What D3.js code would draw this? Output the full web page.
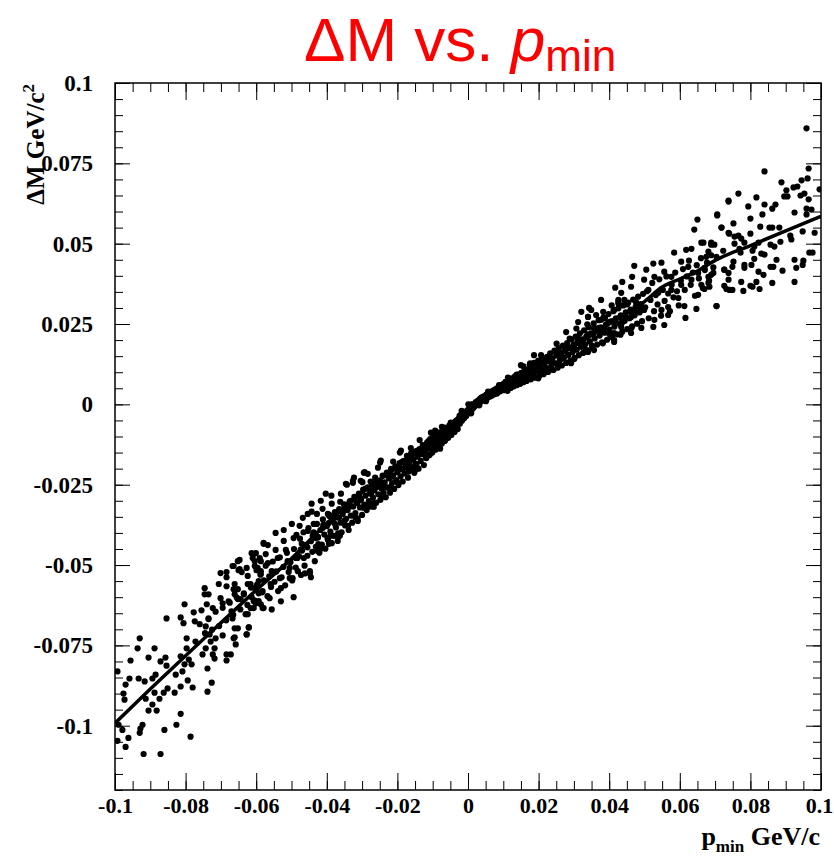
<!DOCTYPE html>
<html>
<head>
<meta charset="utf-8">
<script src="https://cdn.jsdelivr.net/npm/d3@7"></script>
<style>
body { margin: 0; background: #fff; }
</style>
</head>
<body>
<svg id="chart" width="834" height="861"></svg>
<script>
// tick labels
const xMajor = [-0.1, -0.08, -0.06, -0.04, -0.02, 0, 0.02, 0.04, 0.06, 0.08, 0.1];
const yMajor = [-0.1, -0.075, -0.05, -0.025, 0, 0.025, 0.05, 0.075, 0.1];

// fitted curve
const curveP = [-0.1, -0.09, -0.08, -0.07, -0.06, -0.05, -0.04, -0.03, -0.02, -0.01, 0, 0.01, 0.02, 0.03, 0.04, 0.05, 0.055, 0.06, 0.065, 0.07, 0.08, 0.09, 0.1];
const curveM = [-0.0992, -0.0886, -0.0782, -0.068, -0.0578, -0.048, -0.037, -0.0275, -0.0195, -0.011, -0.0015, 0.0055, 0.012, 0.018, 0.025, 0.032, 0.0365, 0.039, 0.0415, 0.0448, 0.0494, 0.054, 0.0585];

// scatter points [pmin, deltaM] : low-momentum tail
const pointsLow = [
  [-0.0993,-0.0831],[-0.0930,-0.0728],[-0.0936,-0.0759],[-0.0956,-0.0797],[-0.0959,-0.0853],[-0.0970,-0.0872],[-0.0976,-0.0900],[-0.0973,-0.0919],[-0.0990,-0.0997],[-0.0979,-0.1013],
  [-0.0993,-0.1047],[-0.0962,-0.1038],[-0.0970,-0.1066],[-0.0928,-0.1009],[-0.0930,-0.1022],[-0.0922,-0.0997],[-0.0919,-0.1088],[-0.0871,-0.1088],[-0.0860,-0.1013],[-0.0826,-0.0997],
  [-0.0814,-0.0963],[-0.0786,-0.1034],[-0.0905,-0.0788],[-0.0888,-0.0759],[-0.0933,-0.0853],[-0.0916,-0.0862],[-0.0894,-0.0853],[-0.0885,-0.0841],[-0.0871,-0.0800],[-0.0857,-0.0788],
  [-0.0854,-0.0813],[-0.0888,-0.0897],[-0.0874,-0.0916],[-0.0905,-0.0953],[-0.0882,-0.0953],[-0.0894,-0.0934],[-0.0913,-0.0916],[-0.0862,-0.0897],[-0.0851,-0.0884],[-0.0831,-0.0897],
  [-0.0814,-0.0878],[-0.0828,-0.0841],[-0.0809,-0.0831],[-0.0803,-0.0809],[-0.0794,-0.0859],[-0.0780,-0.0881],[-0.0814,-0.0784],[-0.0854,-0.0666],[-0.0803,-0.0622],[-0.0814,-0.0663],
  [-0.0806,-0.0681],[-0.0797,-0.0728],[-0.0797,-0.0759],[-0.0791,-0.0794],[-0.0783,-0.0809],[-0.0777,-0.0647],[-0.0774,-0.0675],[-0.0772,-0.0738],[-0.0760,-0.0684],[-0.0755,-0.0641],
  [-0.0746,-0.0572],[-0.0746,-0.0591],[-0.0735,-0.0591],[-0.0740,-0.0622],[-0.0723,-0.0634],[-0.0735,-0.0666],[-0.0743,-0.0691],[-0.0732,-0.0716],[-0.0729,-0.0738],[-0.0743,-0.0759],
  [-0.0752,-0.0778],[-0.0738,-0.0822],[-0.0723,-0.0778],[-0.0718,-0.0791],[-0.0726,-0.0866],[-0.0738,-0.0894],[-0.0718,-0.0759],[-0.0715,-0.0728],[-0.0706,-0.0559],[-0.0701,-0.0525],
  [-0.0701,-0.0603],[-0.0695,-0.0619],[-0.0695,-0.0719],[-0.0684,-0.0522],[-0.0684,-0.0538],[-0.0684,-0.0566],[-0.0678,-0.0613],[-0.0670,-0.0644],[-0.0667,-0.0666],[-0.0661,-0.0697],
  [-0.0661,-0.0725],[-0.0658,-0.0747],[-0.0684,-0.0778],[-0.0672,-0.0778],[-0.0684,-0.0797],[-0.0667,-0.0503],[-0.0652,-0.0488],[-0.0650,-0.0516],[-0.0641,-0.0522],[-0.0661,-0.0559],
  [-0.0652,-0.0575],[-0.0661,-0.0591],[-0.0644,-0.0606],[-0.0635,-0.0591],[-0.0624,-0.0653],[-0.0621,-0.0694],[-0.0627,-0.0716],[-0.0624,-0.0559],[-0.0613,-0.0463],[-0.0610,-0.0478],
  [-0.0601,-0.0463],[-0.0604,-0.0503],[-0.0599,-0.0516],[-0.0601,-0.0619],[-0.0607,-0.0634],[-0.0613,-0.0600],[-0.0587,-0.0488],[-0.0587,-0.0519],[-0.0582,-0.0581],[-0.0582,-0.0634],
  [-0.0579,-0.0434],[-0.0593,-0.0550],[-0.0599,-0.0572],
  [-0.0745,-0.0712],[-0.0735,-0.0668],[-0.0725,-0.0701],[-0.0715,-0.0645],[-0.0705,-0.0690],[-0.0695,-0.0633],[-0.0685,-0.0672],[-0.0675,-0.0617],[-0.0665,-0.0655],[-0.0655,-0.0601],
  [-0.0645,-0.0638],[-0.0635,-0.0588],[-0.0625,-0.0624],[-0.0615,-0.0570],[-0.0605,-0.0610]
];

// negative side of the core band
const pointsMidLow = [
  [-0.0652,-0.0697],[-0.0627,-0.0716],[-0.0621,-0.0694],[-0.0664,-0.0728],[-0.0630,-0.0653],[-0.0652,-0.0606],[-0.0664,-0.0575],[-0.0647,-0.0484],[-0.0664,-0.0503],[-0.0647,-0.0513],
  [-0.0627,-0.0509],[-0.0624,-0.0534],[-0.0616,-0.0559],[-0.0607,-0.0466],[-0.0604,-0.0488],[-0.0590,-0.0478],[-0.0596,-0.0509],[-0.0587,-0.0528],[-0.0604,-0.0572],[-0.0593,-0.0588],
  [-0.0607,-0.0613],[-0.0616,-0.0634],[-0.0587,-0.0622],[-0.0579,-0.0634],[-0.0579,-0.0431],[-0.0567,-0.0438],[-0.0573,-0.0466],[-0.0567,-0.0494],[-0.0556,-0.0519],[-0.0559,-0.0559],
  [-0.0562,-0.0603],[-0.0556,-0.0638],[-0.0545,-0.0400],[-0.0545,-0.0453],[-0.0539,-0.0478],[-0.0533,-0.0541],[-0.0530,-0.0572],[-0.0530,-0.0613],[-0.0522,-0.0391],[-0.0522,-0.0425],
  [-0.0516,-0.0453],[-0.0511,-0.0488],[-0.0505,-0.0509],[-0.0505,-0.0541],[-0.0499,-0.0372],[-0.0494,-0.0416],[-0.0494,-0.0600],[-0.0488,-0.0478],[-0.0482,-0.0519],[-0.0477,-0.0378],
  [-0.0471,-0.0434],[-0.0468,-0.0353],[-0.0465,-0.0478],[-0.0454,-0.0341],[-0.0454,-0.0394],[-0.0445,-0.0538],[-0.0443,-0.0309],[-0.0437,-0.0372],[-0.0431,-0.0416],[-0.0428,-0.0341],
  [-0.0426,-0.0456],[-0.0417,-0.0300],[-0.0411,-0.0384],[-0.0403,-0.0278],[-0.0397,-0.0341],[-0.0394,-0.0434],[-0.0389,-0.0409],[-0.0386,-0.0309],[-0.0377,-0.0372],[-0.0369,-0.0425],
  [-0.0363,-0.0409],[-0.0360,-0.0278],[-0.0352,-0.0331],[-0.0346,-0.0247],[-0.0340,-0.0378],[-0.0332,-0.0300],[-0.0326,-0.0238],[-0.0312,-0.0363],[-0.0309,-0.0278],[-0.0304,-0.0238],
  [-0.0295,-0.0322],[-0.0284,-0.0216],[-0.0275,-0.0278],[-0.0267,-0.0309],[-0.0255,-0.0197],[-0.0252,-0.0238],
  [-0.0598,-0.0561],[-0.0593,-0.0612],[-0.0588,-0.0530],[-0.0583,-0.0585],[-0.0578,-0.0548],[-0.0573,-0.0502],[-0.0568,-0.0597],[-0.0563,-0.0535],[-0.0558,-0.0568],[-0.0553,-0.0489],
  [-0.0548,-0.0552],[-0.0543,-0.0520],[-0.0538,-0.0581],[-0.0533,-0.0476],[-0.0528,-0.0538],[-0.0523,-0.0506],[-0.0518,-0.0563],[-0.0513,-0.0462],[-0.0508,-0.0522],[-0.0503,-0.0491],
  [-0.0498,-0.0548],[-0.0493,-0.0450],[-0.0488,-0.0508],[-0.0483,-0.0478],
  [-0.0479,-0.0472],[-0.0476,-0.0418],[-0.0473,-0.0531],[-0.0470,-0.0455],[-0.0466,-0.0398],[-0.0463,-0.0502],[-0.0459,-0.0437],[-0.0455,-0.0471],[-0.0452,-0.0385],[-0.0448,-0.0519],
  [-0.0445,-0.0426],[-0.0441,-0.0459],[-0.0438,-0.0401],[-0.0434,-0.0488],[-0.0431,-0.0443],
  [-0.0428,-0.0372],[-0.0425,-0.0414],[-0.0421,-0.0462],[-0.0418,-0.0391],[-0.0414,-0.0436],[-0.0411,-0.0358],[-0.0407,-0.0405],[-0.0404,-0.0449],[-0.0400,-0.0379],[-0.0397,-0.0421],
  [-0.0393,-0.0347],[-0.0390,-0.0396],[-0.0386,-0.0432],[-0.0383,-0.0364],[-0.0380,-0.0409],[-0.0377,-0.0335],
  [-0.0374,-0.0383],[-0.0371,-0.0352],[-0.0368,-0.0413],[-0.0365,-0.0326],[-0.0361,-0.0368],[-0.0358,-0.0398],[-0.0355,-0.0341],[-0.0351,-0.0311],[-0.0348,-0.0377],[-0.0345,-0.0356],
  [-0.0341,-0.0329],[-0.0338,-0.0391],[-0.0335,-0.0302],[-0.0332,-0.0346],[-0.0328,-0.0368],[-0.0325,-0.0318],
  [-0.0322,-0.0288],[-0.0319,-0.0338],[-0.0316,-0.0306],[-0.0313,-0.0355],[-0.0309,-0.0279],[-0.0306,-0.0321],[-0.0303,-0.0297],[-0.0300,-0.0344],[-0.0297,-0.0265],[-0.0294,-0.0312],
  [-0.0290,-0.0284],[-0.0287,-0.0329],[-0.0284,-0.0258],[-0.0281,-0.0301],[-0.0278,-0.0276],[-0.0275,-0.0318],
  [-0.0272,-0.0249],[-0.0269,-0.0290],[-0.0266,-0.0268],[-0.0263,-0.0228],[-0.0260,-0.0306],[-0.0257,-0.0256],[-0.0254,-0.0280],[-0.0251,-0.0237],[-0.0248,-0.0297],[-0.0245,-0.0262],
  [-0.0242,-0.0222],[-0.0239,-0.0275],[-0.0236,-0.0243],[-0.0233,-0.0289],[-0.0230,-0.0212],
  [-0.0227,-0.0259],[-0.0224,-0.0230],[-0.0221,-0.0275],[-0.0218,-0.0201],[-0.0215,-0.0245],[-0.0212,-0.0221],[-0.0209,-0.0263],[-0.0206,-0.0193],[-0.0203,-0.0236],[-0.0200,-0.0211],
  [-0.0197,-0.0251],[-0.0194,-0.0183],[-0.0191,-0.0224],[-0.0188,-0.0202],[-0.0185,-0.0240],
  [-0.0182,-0.0176],[-0.0179,-0.0215],[-0.0176,-0.0193],[-0.0173,-0.0160],[-0.0170,-0.0228],[-0.0167,-0.0184],[-0.0164,-0.0205],[-0.0161,-0.0152],[-0.0158,-0.0197],[-0.0155,-0.0171],
  [-0.0152,-0.0213],[-0.0149,-0.0146],[-0.0146,-0.0186],[-0.0143,-0.0163],[-0.0140,-0.0200],
  [-0.0137,-0.0139],[-0.0134,-0.0176],[-0.0131,-0.0155],[-0.0128,-0.0127],[-0.0125,-0.0189],[-0.0122,-0.0146],[-0.0119,-0.0166],[-0.0116,-0.0119],[-0.0113,-0.0138],[-0.0110,-0.0158],
  [-0.0107,-0.0108],[-0.0104,-0.0131],[-0.0101,-0.0150],[-0.0098,-0.0100],[-0.0095,-0.0123],[-0.0092,-0.0141],[-0.0089,-0.0094],[-0.0086,-0.0115],[-0.0083,-0.0133],
  [-0.0080,-0.0087],[-0.0077,-0.0106],[-0.0074,-0.0122],[-0.0071,-0.0080],[-0.0068,-0.0098],[-0.0065,-0.0113],[-0.0062,-0.0073],[-0.0059,-0.0090],[-0.0056,-0.0104],[-0.0053,-0.0066],
  [-0.0050,-0.0082],[-0.0047,-0.0095],[-0.0044,-0.0060],[-0.0041,-0.0074],[-0.0038,-0.0086],[-0.0035,-0.0053],[-0.0032,-0.0067],[-0.0029,-0.0077],
  [-0.0267,-0.0319],[-0.0227,-0.0259],[-0.0148,-0.0203],[-0.0108,-0.0156],[-0.0079,-0.0138],[-0.0323,-0.0228],[-0.0295,-0.0213],[-0.0247,-0.0175],[-0.0190,-0.0144],[-0.0105,-0.0088],
  [-0.0068,-0.0072],
  [-0.0497,-0.0541],[-0.0486,-0.0406],[-0.0474,-0.0452],[-0.0462,-0.0526],
  [-0.0448,-0.0526],[-0.0437,-0.0398],[-0.0424,-0.0435],[-0.0412,-0.0325],[-0.0443,-0.0334],[-0.0418,-0.0450],
  [-0.0398,-0.0416],[-0.0387,-0.0284],[-0.0375,-0.0350],[-0.0362,-0.0303],[-0.0393,-0.0344],[-0.0368,-0.0401],
  [-0.0349,-0.0361],[-0.0337,-0.0309],[-0.0326,-0.0244],[-0.0313,-0.0306],[-0.0343,-0.0250],[-0.0319,-0.0352],
  [-0.0299,-0.0242],[-0.0287,-0.0317],[-0.0276,-0.0240],[-0.0263,-0.0261],[-0.0293,-0.0211],[-0.0269,-0.0309],
  [-0.0249,-0.0181],[-0.0237,-0.0258],[-0.0224,-0.0214],[-0.0212,-0.0178],[-0.0243,-0.0287],[-0.0218,-0.0257],
  [-0.0199,-0.0244],[-0.0187,-0.0179],[-0.0174,-0.0196],[-0.0162,-0.0136],[-0.0193,-0.0150],[-0.0168,-0.0209],
  [-0.0149,-0.0186],[-0.0137,-0.0111],[-0.0124,-0.0142],[-0.0112,-0.0114],[-0.0143,-0.0144],[-0.0118,-0.0167],
  [-0.0099,-0.0140],[-0.0087,-0.0107],[-0.0074,-0.0070],[-0.0062,-0.0090],[-0.0093,-0.0082],[-0.0068,-0.0114],
  [-0.0049,-0.0057],[-0.0037,-0.0073],[-0.0024,-0.0036],[-0.0012,-0.0032],[-0.0043,-0.0072],[-0.0018,-0.0020],
  [-0.0455,-0.0445],[-0.0440,-0.0410],[-0.0425,-0.0412],[-0.0410,-0.0375],[-0.0395,-0.0370],[-0.0380,-0.0348],[-0.0365,-0.0352],[-0.0350,-0.0315],[-0.0335,-0.0318],[-0.0320,-0.0290],
  [-0.0305,-0.0292],[-0.0290,-0.0262],[-0.0275,-0.0268],[-0.0260,-0.0240],[-0.0245,-0.0247],[-0.0230,-0.0220],[-0.0215,-0.0225],[-0.0200,-0.0195],[-0.0185,-0.0200],[-0.0170,-0.0170],
  [-0.0155,-0.0172],[-0.0140,-0.0145],[-0.0125,-0.0148],[-0.0110,-0.0120],[-0.0095,-0.0118],[-0.0080,-0.0090],[-0.0065,-0.0091],[-0.0050,-0.0065],[-0.0035,-0.0060],[-0.0020,-0.0032],
  [-0.0005,-0.0025]
];

// positive side of the core band
const pointsMidHigh = [
  [-0.0026,-0.0047],[-0.0023,-0.0060],[-0.0020,-0.0038],[-0.0017,-0.0051],[-0.0014,-0.0032],[-0.0011,-0.0043],[-0.0008,-0.0025],[-0.0005,-0.0036],[-0.0002,-0.0019],[0.0001,-0.0028],
  [0.0004,-0.0012],[0.0007,-0.0021],[0.0010,-0.0005],[0.0013,-0.0014],[0.0016,0.0001],[0.0019,-0.0007],[0.0022,0.0007],[0.0025,-0.0001],[0.0028,0.0012],[-0.0020,-0.0041],
  [0.0031,0.0004],[0.0034,0.0017],[0.0037,0.0009],[0.0040,0.0022],[0.0043,0.0013],[0.0046,0.0026],[0.0049,0.0017],[0.0052,0.0030],[0.0055,0.0020],[0.0058,0.0034],
  [0.0061,0.0024],[0.0064,0.0038],[0.0067,0.0027],[0.0070,0.0042],[0.0073,0.0031],[0.0076,0.0046],[0.0079,0.0034],[0.0082,0.0050],[0.0085,0.0038],[0.0088,0.0054],
  [0.0091,0.0041],[0.0094,0.0058],[0.0097,0.0046],[0.0100,0.0063],[0.0045,0.0013],[0.0085,0.0044],[0.0009,-0.0028],
  [0.0103,0.0050],[0.0106,0.0070],[0.0109,0.0058],[0.0112,0.0042],[0.0115,0.0076],[0.0118,0.0062],[0.0121,0.0051],[0.0124,0.0081],[0.0127,0.0067],[0.0130,0.0056],
  [0.0133,0.0087],[0.0136,0.0071],[0.0139,0.0060],[0.0142,0.0093],[0.0145,0.0076],[0.0148,0.0064],[0.0151,0.0098],[0.0154,0.0081],[0.0157,0.0069],
  [0.0160,0.0103],[0.0163,0.0086],[0.0166,0.0073],[0.0169,0.0109],[0.0172,0.0092],[0.0175,0.0124],[0.0178,0.0078],[0.0181,0.0114],[0.0184,0.0097],[0.0187,0.0129],
  [0.0190,0.0083],[0.0193,0.0119],[0.0196,0.0102],[0.0199,0.0136],[0.0202,0.0089],[0.0205,0.0124],[0.0208,0.0108],[0.0211,0.0141],[0.0214,0.0094],[0.0217,0.0129],
  [0.0221,0.0114],[0.0224,0.0148],[0.0227,0.0101],[0.0230,0.0134],[0.0233,0.0159],[0.0236,0.0120],[0.0239,0.0143],[0.0242,0.0107],[0.0245,0.0167],[0.0248,0.0128],
  [0.0251,0.0152],[0.0254,0.0114],[0.0257,0.0175],[0.0260,0.0137],[0.0263,0.0160],[0.0266,0.0121],[0.0269,0.0183],[0.0272,0.0145],[0.0275,0.0169],[0.0278,0.0129],
  [0.0281,0.0191],[0.0284,0.0153],[0.0287,0.0176],[0.0290,0.0136],[0.0293,0.0202],[0.0296,0.0162],[0.0299,0.0185],[0.0302,0.0145],[0.0305,0.0211],[0.0308,0.0170],
  [0.0311,0.0194],[0.0314,0.0153],[0.0317,0.0221],[0.0320,0.0179],[0.0323,0.0202],[0.0326,0.0160],[0.0329,0.0230],[0.0332,0.0187],[0.0335,0.0211],[0.0338,0.0168],
  [0.0342,0.0240],[0.0345,0.0196],[0.0349,0.0221],[0.0352,0.0177],[0.0356,0.0252],[0.0359,0.0205],[0.0363,0.0230],[0.0366,0.0186],[0.0370,0.0262],[0.0373,0.0214],
  [0.0377,0.0240],[0.0380,0.0193],[0.0384,0.0271],[0.0387,0.0223],[0.0391,0.0249],[0.0394,0.0201],[0.0398,0.0281],[0.0401,0.0233],[0.0405,0.0258],[0.0408,0.0209],
  [0.0412,0.0290],[0.0415,0.0242],[0.0419,0.0268],
  [0.0423,0.0218],[0.0426,0.0299],[0.0430,0.0251],[0.0433,0.0277],[0.0437,0.0226],[0.0440,0.0308],[0.0444,0.0260],[0.0447,0.0286],[0.0451,0.0234],[0.0454,0.0317],
  [0.0458,0.0268],[0.0461,0.0295],[0.0465,0.0243],[0.0468,0.0326],[0.0472,0.0277],[0.0475,0.0304],[0.0479,0.0251],[0.0482,0.0335],[0.0486,0.0286],[0.0489,0.0312],
  [0.0493,0.0259],[0.0496,0.0344],
  [0.0102,0.0044],[0.0199,0.0081],[0.0292,0.0128],[0.0340,0.0163],[0.0414,0.0194],[0.0150,0.0122],[0.0187,0.0153],[0.0278,0.0225],[0.0312,0.0256],[0.0321,0.0288],
  [0.0340,0.0272],[0.0343,0.0300],[0.0383,0.0288],[0.0426,0.0319],[0.0414,0.0222],[0.0357,0.0169],[0.0335,0.0169],
  [0.0001,0.0000],[0.0013,-0.0013],[0.0026,0.0005],[0.0038,0.0021],[0.0007,-0.0010],[0.0032,-0.0003],
  [0.0051,0.0010],[0.0063,0.0033],[0.0076,0.0034],[0.0088,0.0060],[0.0057,0.0040],[0.0082,0.0034],
  [0.0101,0.0046],[0.0113,0.0083],[0.0126,0.0074],[0.0138,0.0093],[0.0107,0.0066],[0.0132,0.0061],
  [0.0151,0.0079],[0.0163,0.0100],[0.0176,0.0128],[0.0188,0.0102],[0.0157,0.0118],[0.0182,0.0083],
  [0.0201,0.0135],[0.0213,0.0100],[0.0226,0.0147],[0.0238,0.0137],[0.0207,0.0153],[0.0232,0.0108],
  [0.0251,0.0189],[0.0263,0.0141],[0.0276,0.0174],[0.0288,0.0205],[0.0257,0.0122],[0.0282,0.0155],
  [0.0301,0.0141],[0.0313,0.0204],[0.0326,0.0183],[0.0338,0.0249],[0.0307,0.0236],[0.0332,0.0165],
  [0.0351,0.0183],[0.0363,0.0278],[0.0376,0.0231],[0.0388,0.0268],[0.0357,0.0236],[0.0382,0.0190],
  [0.0401,0.0218],[0.0413,0.0260],[0.0426,0.0314],[0.0438,0.0256],[0.0407,0.0308],[0.0432,0.0217],
  [0.0451,0.0311],[0.0463,0.0238],[0.0476,0.0318],[0.0488,0.0292],
  [0.0010,0.0000],[0.0025,0.0002],[0.0040,0.0021],[0.0055,0.0022],[0.0070,0.0040],[0.0085,0.0045],[0.0100,0.0062],[0.0115,0.0065],[0.0130,0.0080],[0.0145,0.0086],
  [0.0160,0.0098],[0.0175,0.0102],[0.0190,0.0115],[0.0205,0.0117],[0.0220,0.0133],[0.0235,0.0140],[0.0250,0.0158],[0.0265,0.0160],[0.0280,0.0177],[0.0295,0.0178],
  [0.0310,0.0195],[0.0325,0.0198],[0.0340,0.0218],[0.0355,0.0218],[0.0370,0.0238],[0.0385,0.0237],[0.0400,0.0256],[0.0415,0.0258],[0.0430,0.0270],[0.0445,0.0276],
  [0.0460,0.0290],[0.0475,0.0288],[0.0490,0.0304]
];

// high-momentum tail
const pointsHigh = [
  [0.0502,0.0302],[0.0507,0.0352],[0.0512,0.0268],[0.0517,0.0325],[0.0522,0.0378],[0.0527,0.0290],[0.0532,0.0340],[0.0537,0.0311],[0.0542,0.0389],[0.0547,0.0276],
  [0.0552,0.0356],[0.0557,0.0322],[0.0562,0.0398],[0.0567,0.0345],[0.0572,0.0290],[0.0577,0.0372],[0.0582,0.0333],[0.0587,0.0410],[0.0592,0.0352],[0.0597,0.0308],
  [0.0603,0.0385],[0.0609,0.0421],[0.0614,0.0356],[0.0620,0.0398],[0.0626,0.0447],[0.0631,0.0372],[0.0637,0.0410],[0.0643,0.0338],[0.0648,0.0433],[0.0654,0.0392],
  [0.0660,0.0455],[0.0665,0.0362],[0.0671,0.0418],[0.0677,0.0441],[0.0683,0.0385],[0.0689,0.0464],[0.0695,0.0426],
  [0.0738,0.0631],[0.0706,0.0591],[0.0650,0.0575],[0.0641,0.0544],[0.0718,0.0550],[0.0738,0.0534],[0.0661,0.0503],[0.0689,0.0497],[0.0633,0.0484],
  [0.0618,0.0481],[0.0584,0.0472],[0.0604,0.0444],[0.0548,0.0441],[0.0525,0.0438],[0.0505,0.0419],[0.0471,0.0431],[0.0465,0.0397],[0.0437,0.0381],[0.0417,0.0363],
  [0.0462,0.0366],[0.0499,0.0388],[0.0528,0.0397],[0.0556,0.0413],[0.0576,0.0397],[0.0624,0.0428],[0.0652,0.0409],[0.0681,0.0397],[0.0695,0.0409],[0.0726,0.0419],
  [0.0738,0.0388],[0.0732,0.0359],[0.0684,0.0366],[0.0652,0.0341],[0.0647,0.0297],[0.0613,0.0306],[0.0616,0.0269],[0.0596,0.0331],[0.0704,0.0306],[0.0567,0.0303],
  [0.0556,0.0247],[0.0567,0.0278],[0.0548,0.0294],[0.0528,0.0263],[0.0525,0.0241],[0.0499,0.0294],[0.0491,0.0238],[0.0462,0.0222],[0.0462,0.0272],[0.0443,0.0325],
  [0.0426,0.0325],[0.0414,0.0294],[0.0434,0.0241],[0.0414,0.0200],[0.0377,0.0325],[0.0349,0.0294],[0.0340,0.0272],[0.0377,0.0263],[0.0434,0.0347],[0.0511,0.0356],
  [0.0539,0.0347],[0.0576,0.0356],[0.0604,0.0372],[0.0633,0.0388],[0.0661,0.0372],
  [0.0959,0.0859],[0.0840,0.0725],[0.0965,0.0734],[0.0888,0.0691],[0.0945,0.0697],[0.0962,0.0703],[0.0996,0.0669],[0.0902,0.0666],[0.0922,0.0675],[0.0933,0.0678],
  [0.0766,0.0656],[0.0738,0.0634],[0.0817,0.0644],[0.0896,0.0647],[0.0905,0.0647],[0.0942,0.0650],[0.0953,0.0656],[0.0965,0.0638],[0.0794,0.0616],[0.0840,0.0622],
  [0.0862,0.0609],[0.0871,0.0622],[0.0959,0.0609],[0.0973,0.0606],[0.0925,0.0597],[0.0706,0.0588],[0.0959,0.0591],[0.0800,0.0578],[0.0834,0.0591],[0.0718,0.0550],
  [0.0752,0.0563],[0.0740,0.0531],[0.0755,0.0522],[0.0766,0.0525],[0.0774,0.0516],[0.0800,0.0531],[0.0828,0.0553],[0.0854,0.0550],[0.0862,0.0550],[0.0882,0.0550],
  [0.0913,0.0525],[0.0916,0.0513],[0.0948,0.0538],[0.0982,0.0534],[0.0755,0.0500],[0.0783,0.0503],[0.0811,0.0491],[0.0823,0.0503],[0.0857,0.0497],[0.0868,0.0491],
  [0.0885,0.0506],[0.0689,0.0503],[0.0698,0.0497],[0.0667,0.0503],[0.0681,0.0475],[0.0723,0.0478],[0.0769,0.0484],[0.0772,0.0472],[0.0806,0.0478],[0.0831,0.0469],
  [0.0840,0.0466],[0.0967,0.0472],[0.0976,0.0472],[0.0704,0.0459],[0.0675,0.0459],[0.0752,0.0444],[0.0811,0.0453],[0.0874,0.0450],[0.0925,0.0450],[0.0950,0.0447],
  [0.0783,0.0434],[0.0803,0.0434],[0.0865,0.0428],[0.0948,0.0434],[0.0670,0.0425],[0.0726,0.0419],[0.0749,0.0428],[0.0783,0.0425],[0.0857,0.0428],[0.0891,0.0416],
  [0.0930,0.0425],[0.0689,0.0403],[0.0738,0.0409],[0.0837,0.0403],[0.0823,0.0413],[0.0681,0.0378],[0.0726,0.0369],[0.0774,0.0381],[0.0800,0.0369],[0.0817,0.0381],
  [0.0862,0.0378],[0.0925,0.0381],[0.0670,0.0359],[0.0740,0.0356],[0.0749,0.0356],[0.0780,0.0353],[0.0806,0.0366],[0.0826,0.0359],[0.0704,0.0306]
];

const svg = d3.select('#chart');

const x = d3.scaleLinear().domain([-0.1, 0.1]).range([115, 821]);
const y = d3.scaleLinear().domain([-0.12, 0.1]).range([790, 83]);

const fmt = d => d === 0 ? '0' : String(d);

svg.append('clipPath').attr('id', 'frame')
	.append('rect')
	.attr('x', 115).attr('y', 83)
	.attr('width', 706).attr('height', 707);

// axes
const styleAxis = (size) => (g) => {
	g.select('.domain').remove();
	g.selectAll('line').attr('stroke', '#000').attr('stroke-width', 1);
	g.selectAll('text')
		.attr('fill', '#000')
		.attr('font-family', '"Liberation Serif", "Times New Roman", serif')
		.attr('font-weight', 'bold')
		.attr('font-size', size);
};

svg.append('g').attr('transform', 'translate(0,790)')
	.call(d3.axisBottom(x).ticks(40).tickSize(-9).tickFormat(''))
	.call(styleAxis(22));
const xAxis = svg.append('g').attr('transform', 'translate(0,790)')
	.call(d3.axisBottom(x).tickValues(xMajor).tickSize(-17).tickPadding(7).tickFormat(fmt))
	.call(styleAxis(22));
xAxis.selectAll('text').filter(d => d === 0.1).attr('dx', -2);

svg.append('g').attr('transform', 'translate(0,83)')
	.call(d3.axisTop(x).ticks(40).tickSize(-9).tickFormat(''))
	.call(styleAxis(22));
svg.append('g').attr('transform', 'translate(0,83)')
	.call(d3.axisTop(x).tickValues(xMajor).tickSize(-17).tickFormat(''))
	.call(styleAxis(22));

svg.append('g').attr('transform', 'translate(115,0)')
	.call(d3.axisLeft(y).ticks(44).tickSize(-8).tickFormat(''))
	.call(styleAxis(23));
svg.append('g').attr('transform', 'translate(115,0)')
	.call(d3.axisLeft(y).tickValues(yMajor).tickSize(-15).tickPadding(22).tickFormat(fmt))
	.call(styleAxis(23));
svg.append('g').attr('transform', 'translate(821,0)')
	.call(d3.axisRight(y).ticks(44).tickSize(-8).tickFormat(''))
	.call(styleAxis(23));
svg.append('g').attr('transform', 'translate(821,0)')
	.call(d3.axisRight(y).tickValues(yMajor).tickSize(-15).tickFormat(''))
	.call(styleAxis(23));

svg.append('rect')
	.attr('x', 115).attr('y', 83)
	.attr('width', 706).attr('height', 707)
	.attr('fill', 'none')
	.attr('stroke', '#000')
	.attr('stroke-width', 1.5);

// scatter
const plot = svg.append('g').attr('clip-path', 'url(#frame)');
const allPoints = pointsLow.concat(pointsMidLow, pointsMidHigh, pointsHigh);

plot.selectAll('circle')
	.data(allPoints)
	.enter()
	.append('circle')
	.attr('cx', d => x(d[0]))
	.attr('cy', d => y(d[1]))
	.attr('r', 3.1)
	.attr('fill', '#000');

// fitted curve
const line = d3.line()
	.x(d => x(d[0]))
	.y(d => y(d[1]))
	.curve(d3.curveMonotoneX);

plot.append('path')
	.datum(curveP.map((p, i) => [p, curveM[i]]))
	.attr('d', line)
	.attr('fill', 'none')
	.attr('stroke', '#000')
	.attr('stroke-width', 3.5);

// title
const title = svg.append('text')
	.attr('x', 304).attr('y', 61)
	.attr('fill', '#ff0000')
	.attr('font-family', '"Liberation Sans", Arial, sans-serif')
	.attr('font-size', 62);
title.append('tspan').text('ΔM vs. ');
title.append('tspan').attr('font-style', 'italic').text('p');
title.append('tspan').attr('font-size', 44).attr('dy', 10).text('min');

// axis titles
const yTitle = svg.append('text')
	.attr('transform', 'translate(44,84) rotate(-90)')
	.attr('text-anchor', 'end')
	.attr('font-family', '"Liberation Serif", "Times New Roman", serif')
	.attr('font-weight', 'bold')
	.attr('font-size', 25);
yTitle.append('tspan').text('ΔM GeV/c');
yTitle.append('tspan').attr('font-size', 17).attr('dy', -10).text('2');

const xTitle = svg.append('text')
	.attr('x', 820).attr('y', 845)
	.attr('text-anchor', 'end')
	.attr('font-family', '"Liberation Serif", "Times New Roman", serif')
	.attr('font-weight', 'bold')
	.attr('font-size', 26);
xTitle.append('tspan').text('p');
xTitle.append('tspan').attr('font-size', 17).attr('dy', 7).text('min');
xTitle.append('tspan').attr('dy', -7).text(' GeV/c');
</script>
</body>
</html>
